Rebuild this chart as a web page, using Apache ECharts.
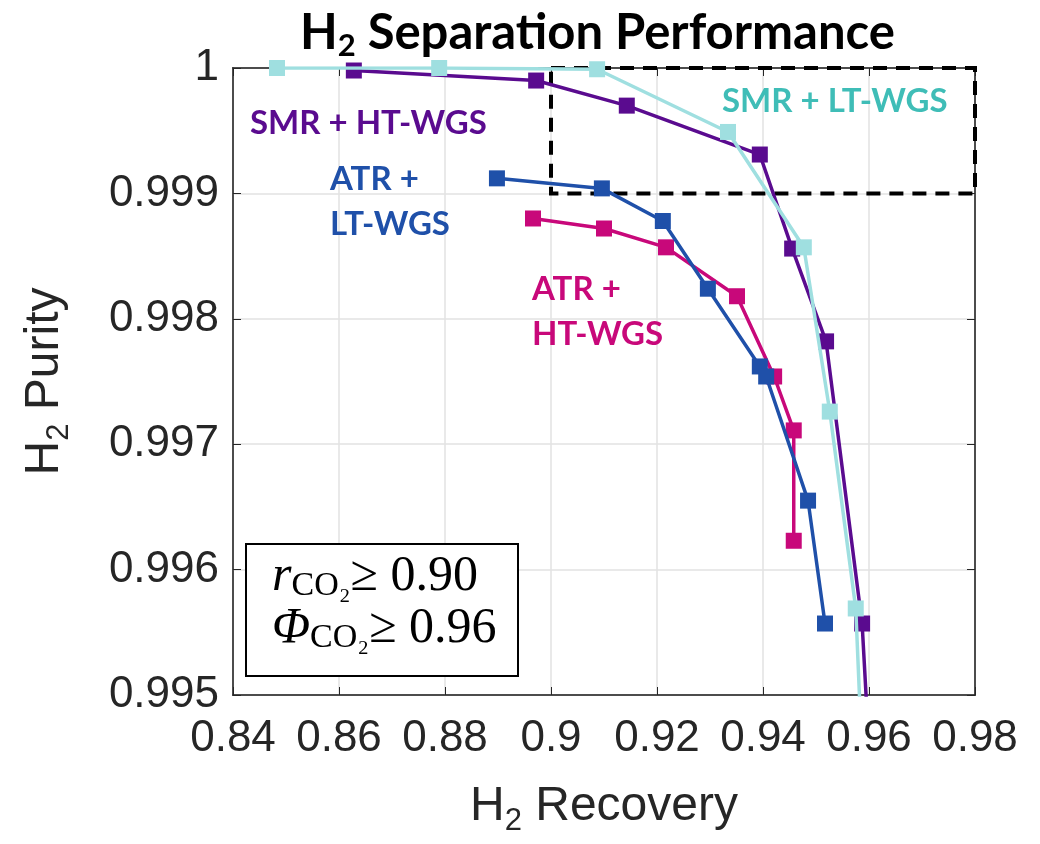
<!DOCTYPE html>
<html>
<head>
<meta charset="utf-8">
<script src="https://cdn.jsdelivr.net/npm/echarts@6/dist/echarts.min.js"></script>
<style>
  html, body { margin: 0; padding: 0; background: #fff; }
  #main { width: 1040px; height: 844px; }
</style>
</head>
<body>
<div id="main"></div>
<script>
// values (recovery, purity)
var smrLtRecovery = [0.8483, 0.8789, 0.9087, 0.9334, 0.9477, 0.9526, 0.9575, 0.9587];
var smrLtPurity   = [1.0000, 1.0000, 0.99999, 0.99949, 0.99857, 0.99726, 0.99569, 0.9945];

var smrHtRecovery = [0.8628, 0.8972, 0.9143, 0.9394, 0.9455, 0.9519, 0.9587, 0.9601];
var smrHtPurity   = [0.99998, 0.99990, 0.99970, 0.99931, 0.99856, 0.99782, 0.99557, 0.9945];

var atrLtRecovery = [0.8898, 0.9096, 0.9211, 0.9296, 0.9394, 0.9406, 0.9485, 0.9517];
var atrLtPurity   = [0.99912, 0.99904, 0.99878, 0.99824, 0.99762, 0.99754, 0.99655, 0.99557];

var atrHtRecovery = [0.8966, 0.9100, 0.9217, 0.9351, 0.9421, 0.9458, 0.9458];
var atrHtPurity   = [0.99880, 0.99872, 0.99857, 0.99818, 0.99754, 0.99711, 0.99623];

var xTicks = { min: 0.84, max: 0.98, step: 0.02 };
var yTicks = { min: 0.995, max: 1.0, step: 0.001 };

function pairs(xs, ys) {
  return xs.map(function (x, i) { return [x, ys[i]]; });
}

var myChart = echarts.init(document.getElementById('main'));

var tickFont = { fontFamily: 'Liberation Sans', fontSize: 44, color: '#262626' };
var nameRich = {
  n: { fontFamily: 'Liberation Sans', fontSize: 48, color: '#262626', lineHeight: 60, verticalAlign: 'middle' },
  s: { fontFamily: 'Liberation Sans', fontSize: 31, color: '#262626', lineHeight: 31, verticalAlign: 'bottom' }
};

function lineSeries(name, data, color, z) {
  return {
    name: name,
    type: 'line',
    data: data,
    symbol: 'rect',
    symbolSize: 16,
    clip: true,
    z: z,
    lineStyle: { width: 3.5, color: color },
    itemStyle: { color: color }
  };
}

var series = [
  lineSeries('SMR + HT-WGS', pairs(smrHtRecovery, smrHtPurity), '#5a0b8f', 3),
  lineSeries('SMR + LT-WGS', pairs(smrLtRecovery, smrLtPurity), '#9fdfe0', 4),
  lineSeries('ATR + HT-WGS', pairs(atrHtRecovery, atrHtPurity), '#c8087a', 3),
  lineSeries('ATR + LT-WGS', pairs(atrLtRecovery, atrLtPurity), '#1f50a9', 4)
];
// dashed zoom box
series[0].markArea = {
  silent: true,
  itemStyle: { color: 'rgba(0,0,0,0)', borderColor: '#000', borderWidth: 4, borderType: [14, 9] },
  data: [[{ coord: [0.9, 1.0] }, { coord: [0.98, 0.999] }]]
};

var labelFont = 'Lato';

var option = {
  backgroundColor: '#fff',
  animation: false,
  title: {
    text: 'H{s|2} Separation Performance',
    left: 295,
    top: 0,
    textStyle: {
      fontFamily: labelFont, fontWeight: 'bold', fontSize: 49, color: '#000', lineHeight: 56,
      rich: {
        s: { fontFamily: labelFont, fontWeight: 'bold', fontSize: 31, color: '#000', verticalAlign: 'bottom', lineHeight: 34 }
      }
    }
  },
  grid: {
    left: 233, right: 65, top: 68, bottom: 149,
    show: true, borderColor: '#262626', borderWidth: 1.5, backgroundColor: '#fff'
  },
  xAxis: [{
    type: 'value', min: xTicks.min, max: xTicks.max, interval: xTicks.step,
    name: '{n|H}{s|2}{n| Recovery}', nameLocation: 'middle', nameGap: 82,
    nameTextStyle: { rich: nameRich },
    axisLine: { show: true, lineStyle: { color: '#262626', width: 1.5 } },
    axisTick: { show: true, inside: true, length: 8, lineStyle: { color: '#262626' } },
    axisLabel: Object.assign({ margin: 22, formatter: function (v) { return String(parseFloat(v.toFixed(2))); } }, tickFont),
    splitLine: { show: true, lineStyle: { color: '#e2e2e2', width: 1.5 } }
  }, {
    type: 'value', position: 'top', min: xTicks.min, max: xTicks.max, interval: xTicks.step,
    axisLine: { show: true, lineStyle: { color: '#262626', width: 1.5 } },
    axisTick: { show: true, inside: true, length: 8, lineStyle: { color: '#262626' } },
    axisLabel: { show: false }, splitLine: { show: false }
  }],
  yAxis: [{
    type: 'value', min: yTicks.min, max: yTicks.max, interval: yTicks.step,
    name: '{n|H}{s|2}{n| Purity}', nameLocation: 'middle', nameGap: 158,
    nameTextStyle: { rich: nameRich },
    axisLine: { show: true, lineStyle: { color: '#262626', width: 1.5 } },
    axisTick: { show: true, inside: true, length: 8, lineStyle: { color: '#262626' } },
    axisLabel: Object.assign({ margin: 14, formatter: function (v) { return String(parseFloat(v.toFixed(3))); } }, tickFont),
    splitLine: { show: true, lineStyle: { color: '#e2e2e2', width: 1.5 } }
  }, {
    type: 'value', position: 'right', min: yTicks.min, max: yTicks.max, interval: yTicks.step,
    axisLine: { show: true, lineStyle: { color: '#262626', width: 1.5 } },
    axisTick: { show: true, inside: true, length: 8, lineStyle: { color: '#262626' } },
    axisLabel: { show: false }, splitLine: { show: false }
  }],
  series: series,
  graphic: [
    { type: 'text', left: 250, top: 107, z: 10,
      style: { text: 'SMR + HT-WGS', fill: '#5a0b8f', font: 'bold 33px Lato' } },
    { type: 'text', left: 722, top: 85, z: 10,
      style: { text: 'SMR + LT-WGS', fill: '#3fbdb7', font: 'bold 33px Lato' } },
    { type: 'text', left: 330, top: 157, z: 10,
      style: { text: 'ATR +\nLT-WGS', fill: '#1f50a9', font: 'bold 33px Lato', lineHeight: 45 } },
    { type: 'text', left: 532, top: 267, z: 10,
      style: { text: 'ATR +\nHT-WGS', fill: '#c8087a', font: 'bold 33px Lato', lineHeight: 45 } },
    { type: 'rect', left: 245, top: 543, z: 10,
      shape: { width: 272, height: 132 },
      style: { fill: '#fff', stroke: '#000', lineWidth: 2 } },
    { type: 'text', left: 272, top: 552, z: 11,
      style: {
        text: '{i|r}{sub|CO₂}{n|≥ 0.90}\n{i|Φ}{sub|CO₂}{n|≥ 0.96}',
        rich: {
          i: { fontFamily: 'Liberation Serif', fontStyle: 'italic', fontSize: 50, fill: '#000', lineHeight: 52, verticalAlign: 'middle' },
          sub: { fontFamily: 'Liberation Serif', fontSize: 34, fill: '#000', lineHeight: 34, verticalAlign: 'bottom' },
          n: { fontFamily: 'Liberation Serif', fontSize: 50, fill: '#000', lineHeight: 52, verticalAlign: 'middle' }
        }
      } }
  ]
};

myChart.setOption(option);
</script>
</body>
</html>
